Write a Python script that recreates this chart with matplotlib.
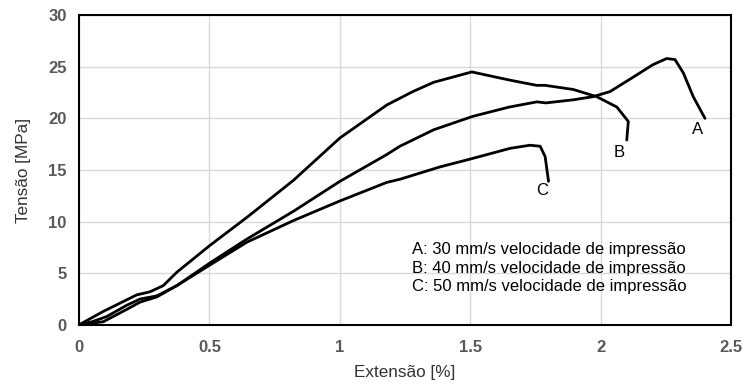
import matplotlib
matplotlib.use("Agg")
import matplotlib.pyplot as plt

# Curve A: 30 mm/s
xa = [0, 0.05, 0.106, 0.183, 0.234, 0.298, 0.375, 0.502, 0.643, 0.822, 1.0, 1.18,
      1.23, 1.36, 1.51, 1.65, 1.755, 1.79, 1.895, 1.97, 2.036, 2.125, 2.2, 2.253,
      2.285, 2.317, 2.355, 2.40]
ya = [0, 0.3, 0.8, 1.9, 2.5, 2.8, 3.8, 6.0, 8.3, 11.0, 13.9, 16.5,
      17.3, 18.9, 20.2, 21.1, 21.6, 21.5, 21.8, 22.1, 22.6, 24.0, 25.2, 25.8,
      25.7, 24.4, 22.1, 20.0]

# Curve B: 40 mm/s
xb = [0, 0.093, 0.221, 0.272, 0.323, 0.375, 0.502, 0.643, 0.822, 1.0, 1.18, 1.28,
      1.36, 1.506, 1.653, 1.755, 1.787, 1.895, 1.985, 2.062, 2.106, 2.10]
yb = [0, 1.3, 2.9, 3.2, 3.8, 5.1, 7.7, 10.4, 14.0, 18.1, 21.3, 22.6,
      23.5, 24.5, 23.7, 23.2, 23.2, 22.8, 22.1, 21.1, 19.7, 17.9]

# Curve C: 50 mm/s
xc = [0, 0.093, 0.183, 0.234, 0.298, 0.375, 0.502, 0.643, 0.822, 1.0, 1.18, 1.23,
      1.384, 1.506, 1.653, 1.729, 1.768, 1.787, 1.80]
yc = [0, 0.3, 1.5, 2.2, 2.7, 3.8, 5.8, 8.0, 10.1, 12.0, 13.8, 14.1,
      15.3, 16.1, 17.1, 17.4, 17.3, 16.3, 13.9]

legend_lines = ["A: 30 mm/s velocidade de impressão",
                "B: 40 mm/s velocidade de impressão",
                "C: 50 mm/s velocidade de impressão"]

plt.rcParams['font.family'] = ['Liberation Sans', 'DejaVu Sans']

fig = plt.figure(figsize=(7.46, 3.89), dpi=100)
ax = fig.add_axes([0.106, 0.165, 0.874, 0.796])

for x, y in [(xa, ya), (xb, yb), (xc, yc)]:
    ax.plot(x, y, color="black", linewidth=2, solid_capstyle="round")

ax.set_xlim(0, 2.5)
ax.set_ylim(0, 30)
ax.set_xticks([0, 0.5, 1, 1.5, 2, 2.5])
ax.set_xticklabels(["0", "0.5", "1", "1.5", "2", "2.5"])
ax.set_yticks([0, 5, 10, 15, 20, 25, 30])
ax.grid(True, color="#d9d9d9", linewidth=1)
ax.set_axisbelow(True)
for s in ax.spines.values():
    s.set_color("black")
    s.set_linewidth(1.5)
ax.tick_params(length=0, labelsize=12, labelcolor="#595959")
ax.tick_params(axis="x", pad=11)
ax.tick_params(axis="y", pad=9)
for lab in ax.get_xticklabels() + ax.get_yticklabels():
    lab.set_fontweight("bold")

ax.set_xlabel("Extensão [%]", fontsize=12.3, color="#333333", labelpad=7)
ax.set_ylabel("Tensão [MPa]", fontsize=12.3, color="#333333", labelpad=12)

ax.text(2.37, 18.9, "A", fontsize=12, ha="center", va="center")
ax.text(2.07, 16.7, "B", fontsize=12, ha="center", va="center")
ax.text(1.775, 13.0, "C", fontsize=12, ha="center", va="center")

for i, line in enumerate(legend_lines):
    ax.text(1.277, 7.26 - i * 1.77, line, fontsize=12, ha="left", va="center")

fig.savefig("out.png", dpi=100)
